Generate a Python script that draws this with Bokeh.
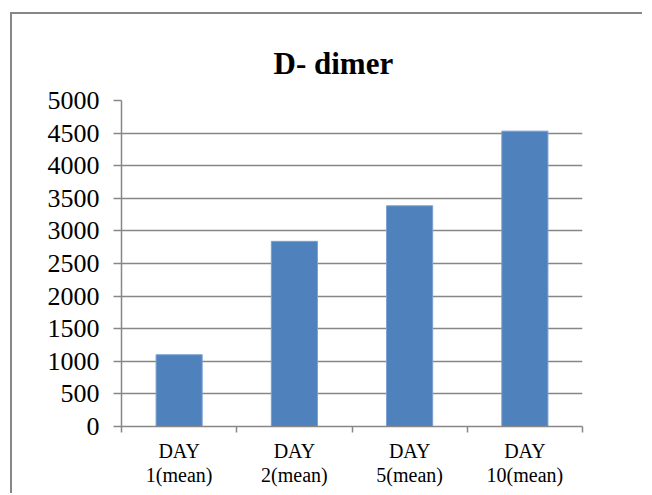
from bokeh.plotting import figure
from bokeh.models import Range1d, FixedTicker
from bokeh.embed import file_html
from bokeh.resources import INLINE

title_text = "D- dimer"
categories = ["DAY\n1(mean)", "DAY\n2(mean)", "DAY\n5(mean)", "DAY\n10(mean)"]
values = [1100, 2840, 3385, 4530]
y_ticks = [0, 500, 1000, 1500, 2000, 2500, 3000, 3500, 4000, 4500, 5000]

FONT = "Liberation Serif"
GRAY = "#878787"

p = figure(width=632, height=481, output_backend="svg", toolbar_location=None,
           x_range=Range1d(0.5, len(categories) + 0.5), y_range=Range1d(0, 5000),
           min_border_left=109, min_border_right=62, min_border_top=86, min_border_bottom=69)

xs = list(range(1, len(categories) + 1))
p.vbar(x=xs, top=values, width=0.4, bottom=0, fill_color="#4f81bd", line_color="#7a9fcf", line_width=1)

p.title.text = title_text
p.title.text_font = FONT
p.title.text_font_size = "31px"
p.title.text_font_style = "bold"
p.title.text_color = "black"
p.title.align = "left"
p.title.vertical_align = "top"
p.title.offset = 152
p.title.standoff = 36

p.outline_line_color = None
p.background_fill_color = "white"
p.border_fill_color = "white"
p.styles = {
    "border-left": "2px solid #878787",
    "border-top": "2px solid #878787",
    "margin-left": "10px",
    "margin-top": "12px",
}

# y axis
ya = p.yaxis[0]
ya.ticker = FixedTicker(ticks=y_ticks)
ya.axis_line_color = GRAY
ya.axis_line_width = 1.5
ya.major_tick_line_color = GRAY
ya.major_tick_line_width = 1.5
ya.major_tick_out = 8
ya.major_tick_in = 0
ya.minor_tick_line_color = None
ya.major_label_text_font = FONT
ya.major_label_text_font_size = "26px"
ya.major_label_text_color = "black"
ya.major_label_standoff = 14

p.ygrid.grid_line_color = GRAY
p.ygrid.grid_line_width = 1.5
p.xgrid.grid_line_color = None

# x axis
xa = p.xaxis[0]
xa.ticker = FixedTicker(ticks=xs, minor_ticks=[x - 0.5 for x in xs] + [xs[-1] + 0.5])
xa.major_label_overrides = {x: c for x, c in zip(xs, categories)}
xa.axis_line_color = GRAY
xa.axis_line_width = 1.5
xa.major_tick_line_color = None
xa.major_tick_out = 0
xa.major_tick_in = 0
xa.minor_tick_line_color = GRAY
xa.minor_tick_line_width = 1.5
xa.minor_tick_out = 6
xa.minor_tick_in = 0
xa.major_label_text_font = FONT
xa.major_label_text_font_size = "20px"
xa.major_label_text_color = "black"
xa.major_label_text_line_height = 1.13
xa.major_label_standoff = 7

open("out.html", "w").write(file_html(p, INLINE))
